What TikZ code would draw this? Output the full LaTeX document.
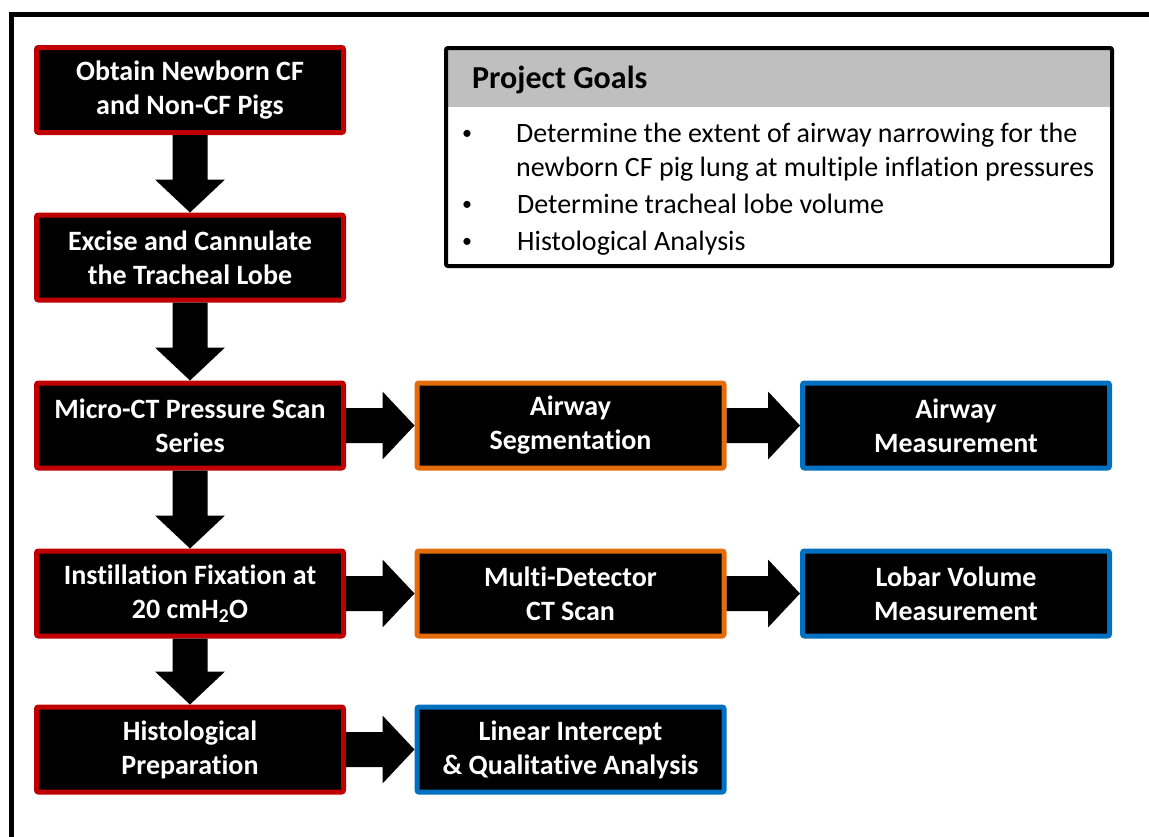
\documentclass[tikz,border=0pt]{standalone}
\usepackage{fontspec}
\setmainfont{Carlito}[Ligatures=NoCommon]
\usetikzlibrary{calc}
\definecolor{bred}{HTML}{C00000}
\definecolor{borange}{HTML}{E46C0A}
\definecolor{bblue}{HTML}{0070C0}
\definecolor{hgray}{HTML}{BFBFBF}
\tikzset{
  stepbox/.style={draw=#1, fill=black, line width=5pt, rounded corners=2pt,
    minimum width=307pt, minimum height=85pt, text=white, inner sep=0pt,
    font=\bfseries\fontsize{28}{34}\selectfont, align=center},
  goaltext/.style={anchor=base west, inner sep=0pt,
    font=\fontsize{28}{34}\selectfont},
  bullettext/.style={anchor=base, inner sep=0pt, font=\fontsize{20}{34}\selectfont},
  flow/.style={fill=black}
}
\newcommand{\vflow}[2]{%
  \fill[flow] let \p1=(#1.south), \p2=(#2.north) in
   (\x1-17.5pt,\y1) -- (\x1-17.5pt,\y2+33pt) -- (\x1-35pt,\y2+33pt) -- (\x1,\y2)
   -- (\x1+35pt,\y2+33pt) -- (\x1+17.5pt,\y2+33pt) -- (\x1+17.5pt,\y1) -- cycle;}
\newcommand{\hflow}[2]{%
  \fill[flow] let \p1=(#1.east), \p2=(#2.west) in
   (\x1,\y1+17.5pt) -- (\x2-32pt,\y1+17.5pt) -- (\x2-32pt,\y1+34pt) -- (\x2,\y1)
   -- (\x2-32pt,\y1-34pt) -- (\x2-32pt,\y1-17.5pt) -- (\x1,\y1-17.5pt) -- cycle;}
\begin{document}
\begin{tikzpicture}[x=1pt,y=-1pt]
\useasboundingbox (0,0) rectangle (1149,836);
\begin{scope}
\clip (0,0) rectangle (1149,836);
\draw[line width=5pt] (11.5,14.5) rectangle (1180,880);
\end{scope}

% left column
\node[stepbox=bred] (b1) at (190,90) {Obtain Newborn CF\\and Non-CF Pigs};
\node[stepbox=bred] (b2) at (190,257.5) {Excise and Cannulate\\the Tracheal Lobe};
\node[stepbox=bred] (b3) at (190,425.5) {Micro-CT Pressure Scan\\Series};
\node[stepbox=bred] (b4) at (190,593.5) {Instillation Fixation at\\20 cmH\textsubscript{2}O};
\node[stepbox=bred] (b5) at (190,749.5) {Histological\\Preparation};

% middle column
\node[stepbox=borange] (m3) at (570.5,425.5) {Airway\\Segmentation};
\node[stepbox=borange] (m4) at (570.5,593.5) {Multi-Detector\\CT Scan};
\node[stepbox=bblue] (m5) at (570.5,749.5) {Linear Intercept\\\& Qualitative Analysis};

% right column
\node[stepbox=bblue] (r3) at (956,425.5) {Airway\\Measurement};
\node[stepbox=bblue] (r4) at (956,593.5) {Lobar Volume\\Measurement};

% arrows
\vflow{b1}{b2}
\vflow{b2}{b3}
\vflow{b3}{b4}
\vflow{b4}{b5}
\hflow{b3}{m3}
\hflow{b4}{m4}
\hflow{b5}{m5}
\hflow{m3}{r3}
\hflow{m4}{r4}

% goals box
\fill[hgray] (446,48) rectangle (1112,107);
\node[draw, line width=4pt, rounded corners=2pt, minimum width=666pt,
  minimum height=218pt, inner sep=0pt] (goals) at (779,157) {};
\node[anchor=base west, inner sep=0pt, font=\bfseries\fontsize{32}{34}\selectfont]
  (gtitle) at (472,88) {Project Goals};
\node[bullettext] (gb1) at (467,139) {•};
\node[goaltext] (g1a) at (516,142) {Determine the extent of airway narrowing for the};
\node[goaltext] (g1b) at (516,176) {newborn CF pig lung at multiple inflation pressures};
\node[bullettext] (gb2) at (467,210) {•};
\node[goaltext] (g2) at (517,213) {Determine tracheal lobe volume};
\node[bullettext] (gb3) at (467,247) {•};
\node[goaltext] (g3) at (517,250) {Histological Analysis};
\end{tikzpicture}
\end{document}
